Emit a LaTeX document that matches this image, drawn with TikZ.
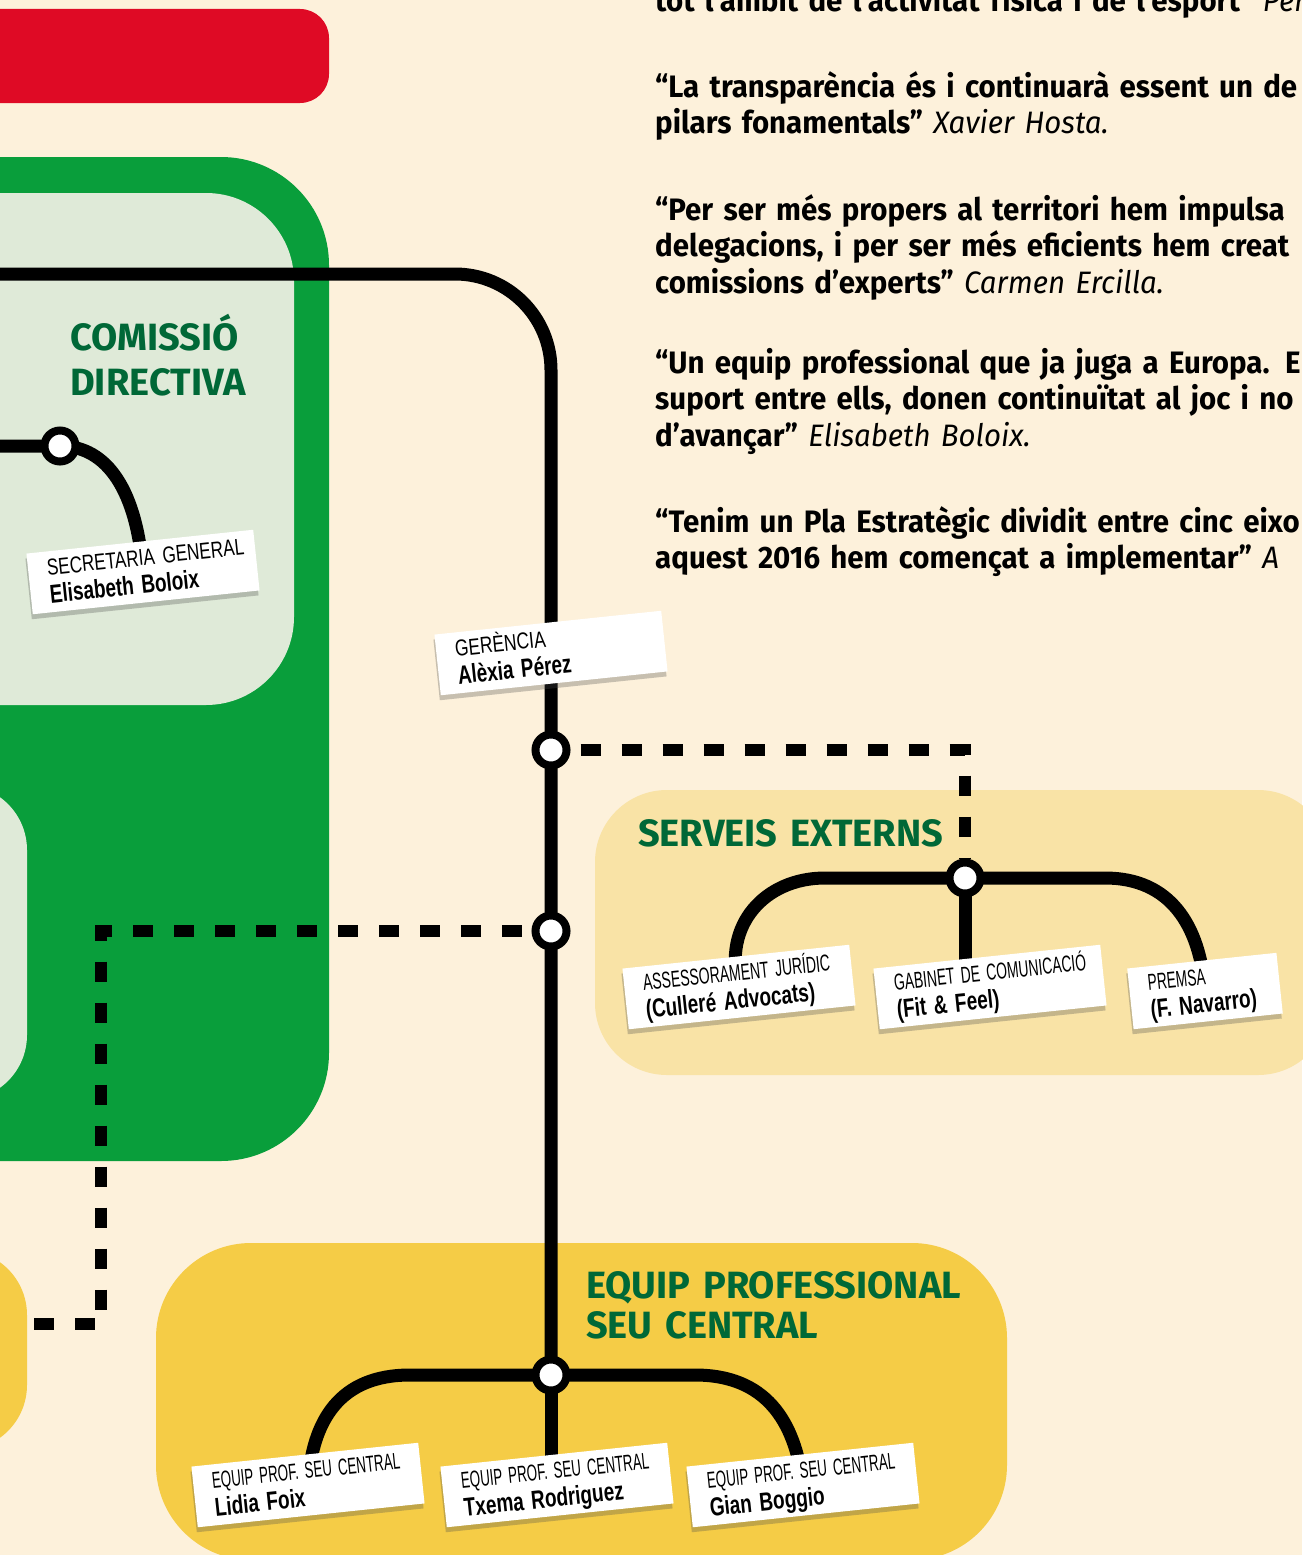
\documentclass[tikz,border=0pt]{standalone}
\usepackage{fontspec}
\usepackage{graphicx}
\usepackage{tikz}
\usetikzlibrary{shadows}
\newfontfamily\quotefont[FakeStretch=0.95]{Fira Sans}
\newfontfamily\headfont{Fira Sans}
\newfontfamily\tagfont[FakeStretch=0.73]{Liberation Sans}
\definecolor{bgcream}{RGB}{253,241,219}
\definecolor{orgred}{RGB}{223,10,37}
\definecolor{orggreen}{RGB}{9,158,59}
\definecolor{palegreen}{RGB}{223,234,216}
\definecolor{paleyellow}{RGB}{249,227,166}
\definecolor{orgyellow}{RGB}{245,204,70}
\definecolor{titlegreen}{RGB}{0,104,55}
% #1 width of the light line, #2 role, #3 name
\newcommand{\tagtext}[3]{\rule{0pt}{21pt}\resizebox{#1}{\height}{#2}\\
  \mbox{\rule[-6pt]{0pt}{6pt}\fontsize{26}{28}\selectfont\bfseries #3}}
\newcommand{\quoted}[1]{{\mdseries\itshape #1}}
\pgfdeclarelayer{panels}
\pgfdeclarelayer{tracks}
\pgfsetlayers{panels,tracks,main}

\begin{document}
\begin{tikzpicture}[x=1pt, y=-1pt,
  metro/.style={line width=13pt},
  dashline/.style={line width=12.5pt, dash pattern=on 20pt off 21pt},
  stop/.style={circle, draw=black, fill=white, line width=8pt, minimum size=31pt, inner sep=0pt},
  tag/.style={fill=white, rotate=6, minimum width=228pt, minimum height=61pt,
              text width=190pt, align=left, inner xsep=19pt, inner ysep=0pt,
              font=\tagfont\fontsize{23}{28}\selectfont,
              drop shadow={shadow xshift=-1pt, shadow yshift=-5pt, opacity=.3, fill=black!70}},
  head/.style={anchor=base west, inner sep=0pt, align=left, text width=420pt, text=titlegreen,
               font=\headfont\bfseries\fontsize{38}{45}\selectfont},
  saying/.style={anchor=base west, inner sep=0pt, align=left, text width=900pt,
                 font=\quotefont\bfseries\fontsize{31}{36.5}\selectfont}
]
\useasboundingbox (0,0) rectangle (1302,1555);

% coloured panels
\begin{pgfonlayer}{panels}
\fill[bgcream] (0,0) rectangle (1302,1555);
\fill[orgred, rounded corners=29pt] (-60,9) rectangle (329,103);
\fill[orggreen, rounded corners=108pt] (-150,157) rectangle (329,1161);
\fill[palegreen, rounded corners=88pt] (-150,193) rectangle (294,705);
\fill[palegreen, rounded corners=65pt] (-150,785) rectangle (27,1100);
\fill[paleyellow, rounded corners=72pt] (595,790) rectangle (1330,1075);
\fill[orgyellow, rounded corners=95pt] (156,1243) rectangle (1007,1560);
\end{pgfonlayer}

% quotes
\node[saying] (q1) at (655,12) {tot l’àmbit de l’activitat física i de l’esport” \quoted{Per}};
\node[saying] (q2) at (655,97) {“La transparència és i continuarà essent un de\\
  pilars fonamentals” \quoted{Xavier Hosta.}};
\node[saying] (q3) at (655,220) {“Per ser més propers al territori hem impulsa\\
  delegacions, i per ser més eficients hem creat\\
  comissions d’experts” \quoted{Carmen Ercilla.}};
\node[saying] (q4) at (655,373) {“Un equip professional que ja juga a Europa. E\\
  suport entre ells, donen continuïtat al joc i no\\
  d’avançar” \quoted{Elisabeth Boloix.}};
\node[saying] (q5) at (655,532) {“Tenim un Pla Estratègic dividit entre cinc eixo\\
  aquest 2016 hem començat a implementar” \quoted{A}};

% titles
\node[head] (cdir) at (70,350) {COMISSIÓ\\DIRECTIVA};
\node[head] (sext) at (638,846) {SERVEIS EXTERNS};
\node[head, font=\headfont\bfseries\fontsize{38}{40}\selectfont] (eqpro) at (586,1298)
  {EQUIP PROFESSIONAL\\SEU CENTRAL};

% stops
\coordinate (boardin) at (-30,274);
\coordinate (secin) at (-30,446);
\coordinate (westout) at (-30,1324);
\node[stop] (sgj) at (60,446) {};
\node[stop] (gerj) at (551,750) {};
\node[stop] (ej) at (551,931) {};
\node[stop] (serj) at (965,878) {};
\node[stop] (eqj) at (551,1375) {};

% name tags
\node[tag] (ger) at (551,653) {\tagtext{91pt}{GERÈNCIA}{Alèxia Pérez}};
\node[tag] (sec) at (143,572) {\tagtext{198pt}{SECRETARIA GENERAL}{Elisabeth Boloix}};
\node[tag] (asse) at (739,987) {\tagtext{188pt}{ASSESSORAMENT JURÍDIC}{(Culleré Advocats)}};
\node[tag] (gab) at (990,987) {\tagtext{193pt}{GABINET DE COMUNICACIÓ}{(Fit \& Feel)}};
\node[tag, minimum width=150pt, text width=112pt] (prem) at (1205,991)
  {\tagtext{58pt}{PREMSA}{(F. Navarro)}};
\node[tag] (lidia) at (308,1485) {\tagtext{189pt}{EQUIP PROF. SEU CENTRAL}{Lidia Foix}};
\node[tag] (txema) at (557,1485) {\tagtext{189pt}{EQUIP PROF. SEU CENTRAL}{Txema Rodriguez}};
\node[tag] (gian) at (803,1485) {\tagtext{189pt}{EQUIP PROF. SEU CENTRAL}{Gian Boggio}};

% tracks
\begin{pgfonlayer}{tracks}
\draw[metro, rounded corners=96pt] (boardin) -| (eqj.center);
\draw[metro] (secin) -- (sgj.center) .. controls (108,446) and (137,492) .. (sec.center);
\draw[dashline, dash phase=31pt] (gerj) -| (serj);
\draw[dashline, dash phase=31pt] (ej) -| (101,1324) -- (westout);
\draw[metro] (asse.center) .. controls (722,925) and (765,878) .. (825,878)
  -- (1105,878) .. controls (1170,878) and (1200,925) .. (prem.center);
\draw[metro] (serj.center) -- (serj.center |- gab.center);
\draw[metro] (lidia.center) .. controls (312,1420) and (340,1375) .. (410,1375)
  -- (695,1375) .. controls (765,1375) and (795,1420) .. (gian.center);
\draw[metro] (eqj.center) -- (eqj.center |- txema.center);
\fill[orgyellow, rounded corners=65pt] (-150,1250) rectangle (27,1450);
\end{pgfonlayer}
\end{tikzpicture}
\end{document}
